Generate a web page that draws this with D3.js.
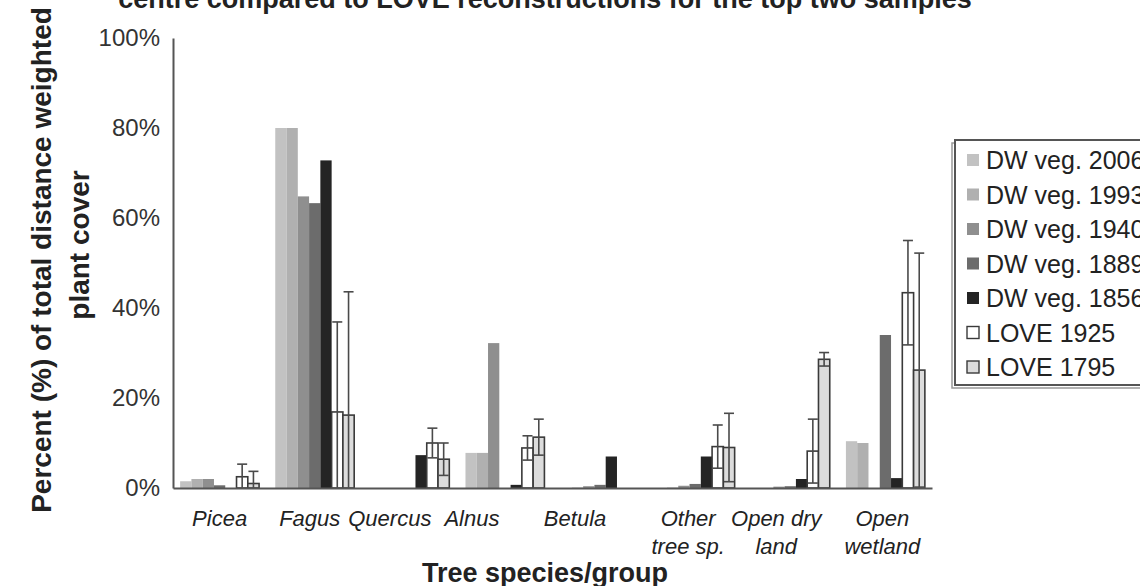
<!DOCTYPE html>
<html>
<head>
<meta charset="utf-8">
<script src="https://cdn.jsdelivr.net/npm/d3@7"></script>
<style>
  html, body { margin: 0; padding: 0; background: #fff; }
  svg { display: block; font-family: "Liberation Sans", Arial, Helvetica, sans-serif; }
</style>
</head>
<body>
<svg id="chart" width="1140" height="586"></svg>
<script>
// Tree species / land-cover groups (label lines as printed under the axis)
const categories = ["Picea", "Fagus", "Quercus", "Alnus", "Betula", "Other tree sp.", "Open dry land", "Open wetland"];
const categoryLines = [["Picea"], ["Fagus"], ["Quercus"], ["Alnus"], ["Betula"], ["Other", "tree sp."], ["Open dry", "land"], ["Open", "wetland"]];

const seriesNames = ["DW veg. 2006", "DW veg. 1993", "DW veg. 1940", "DW veg. 1889", "DW veg. 1856", "LOVE 1925", "LOVE 1795"];

// Distance-weighted plant cover (%) from vegetation maps
const dw2006 = [1.5, 80.0, 0.0, 7.8, 0.0, 0.0, 0.0, 10.4];
const dw1993 = [2.0, 80.0, 0.0, 7.8, 0.1, 0.1, 0.0, 10.0];
const dw1940 = [2.0, 64.8, 0.0, 32.2, 0.4, 0.5, 0.3, 0.0];
const dw1889 = [0.6, 63.3, 0.0, 0.0, 0.7, 0.9, 0.4, 34.0];
const dw1856 = [0.0, 72.8, 7.3, 0.7, 7.0, 7.0, 2.0, 2.2];

// LOVE reconstructions (%) with their standard errors
const love1925 = [2.5, 16.9, 10.0, 8.9, 0.0, 9.2, 8.2, 43.4];
const love1795 = [1.0, 16.2, 6.4, 11.3, 0.0, 9.0, 28.6, 26.2];
const love1925Err = [2.8, 20.0, 3.3, 2.7, 0.0, 4.8, 7.1, 11.6];
const love1795Err = [2.7, 27.4, 3.6, 4.0, 0.0, 7.6, 1.5, 26.0];

const yTicks = [0, 20, 40, 60, 80, 100];

const seriesValues = [dw2006, dw1993, dw1940, dw1889, dw1856, love1925, love1795];
const seriesErrors = [null, null, null, null, null, love1925Err, love1795Err];
const fills = ["#c2c2c2", "#b0b0b0", "#8f8f8f", "#6c6c6c", "#242424", "#ffffff", "#dcdcdc"];
const strokes = [null, null, null, null, null, "#3a3a3a", "#3a3a3a"];

const svg = d3.select("#chart");
const font = '"Liberation Sans", Arial, Helvetica, sans-serif';
const textColor = "#222";

const x0 = d3.scaleBand().domain(categories).range([173, 932]).paddingInner(0.17).paddingOuter(0.075);
const x1 = d3.scaleBand().domain(seriesNames).range([0, x0.bandwidth()]);
const y = d3.scaleLinear().domain([0, 100]).range([488, 38]);

// Title line (runs off the top edge of the figure)
svg.append("text")
  .attr("x", 545).attr("y", 8)
  .attr("text-anchor", "middle")
  .attr("font-weight", "bold").attr("font-size", 27)
  .attr("fill", textColor)
  .text("centre compared to LOVE reconstructions for the top two samples");

// Bars
const rows = categories.map((c, i) => seriesNames.map((s, j) => ({
  cat: c, series: s, j, value: seriesValues[j][i],
  err: seriesErrors[j] ? seriesErrors[j][i] : null
})));

const groups = svg.append("g").selectAll("g").data(rows).join("g")
  .attr("transform", d => `translate(${x0(d[0].cat)},0)`);

groups.selectAll("rect").data(d => d).join("rect")
  .attr("x", d => x1(d.series))
  .attr("width", x1.bandwidth())
  .attr("y", d => y(d.value))
  .attr("height", d => y(0) - y(d.value))
  .attr("fill", d => fills[d.j])
  .attr("stroke", d => strokes[d.j])
  .attr("stroke-width", d => strokes[d.j] ? 1.6 : 0);

// Error bars on the LOVE estimates
const errData = d => d.filter(e => e.err !== null && e.err > 0);
const errG = groups.selectAll("g.err").data(errData).join("g").attr("class", "err")
  .attr("stroke", "#4a4a4a").attr("stroke-width", 1.6).attr("fill", "none");
const cx = d => x1(d.series) + x1.bandwidth() / 2;
const capHalf = 5;
errG.append("line")
  .attr("x1", cx).attr("x2", cx)
  .attr("y1", d => y(d.value + d.err))
  .attr("y2", d => y(Math.max(0, d.value - d.err)));
errG.append("line")
  .attr("x1", d => cx(d) - capHalf).attr("x2", d => cx(d) + capHalf)
  .attr("y1", d => y(d.value + d.err)).attr("y2", d => y(d.value + d.err));
errG.filter(d => d.value - d.err > 0).append("line")
  .attr("x1", d => cx(d) - capHalf).attr("x2", d => cx(d) + capHalf)
  .attr("y1", d => y(d.value - d.err)).attr("y2", d => y(d.value - d.err));

// Y axis
const yAxis = svg.append("g").attr("transform", "translate(173,0)")
  .call(d3.axisLeft(y).tickValues(yTicks).tickFormat(d => d + "%").tickSize(0).tickPadding(13));
yAxis.select(".domain").attr("stroke", "#555").attr("stroke-width", 2);
yAxis.selectAll("text").attr("font-size", 24).attr("font-family", font).attr("fill", "#333");

// X axis line and category labels (labels sit slightly left of their groups)
const labelNudge = [0, -5, -20, -33, -25, -7, -14, -3];
const xAxis = svg.append("g").attr("transform", "translate(0,488)")
  .call(d3.axisBottom(x0).tickSize(0).tickFormat(""));
xAxis.select(".domain").attr("stroke", "#555").attr("stroke-width", 2);
xAxis.selectAll(".tick").each(function(d, i) {
  const t = d3.select(this).append("text")
    .attr("y", 38).attr("fill", textColor)
    .attr("font-size", 22).attr("font-style", "italic").attr("font-family", font)
    .attr("text-anchor", "middle");
  categoryLines[i].forEach((line, k) => {
    t.append("tspan").attr("x", labelNudge[i]).attr("dy", k === 0 ? 0 : 28).text(line);
  });
});

// Axis titles
svg.append("text")
  .attr("transform", "translate(51,260) rotate(-90)")
  .attr("text-anchor", "middle")
  .attr("font-weight", "bold").attr("font-size", 28).attr("fill", textColor)
  .text("Percent (%) of total distance weighted");
svg.append("text")
  .attr("transform", "translate(89,245) rotate(-90)")
  .attr("text-anchor", "middle")
  .attr("font-weight", "bold").attr("font-size", 28).attr("fill", textColor)
  .text("plant cover");
svg.append("text")
  .attr("x", 545).attr("y", 582)
  .attr("text-anchor", "middle")
  .attr("font-weight", "bold").attr("font-size", 27).attr("fill", textColor)
  .text("Tree species/group");

// Legend (box continues past the right edge)
const legend = svg.append("g");
legend.append("rect")
  .attr("x", 952).attr("y", 143).attr("width", 220).attr("height", 245)
  .attr("fill", "#fff").attr("stroke", "#999").attr("stroke-width", 1.5);
legend.append("rect")
  .attr("x", 955).attr("y", 140).attr("width", 220).attr("height", 245)
  .attr("fill", "#fff").attr("stroke", "#555").attr("stroke-width", 2);
const ly = d3.scalePoint().domain(seriesNames).range([160, 367]);
const items = legend.selectAll("g.item").data(seriesNames).join("g").attr("class", "item")
  .attr("transform", d => `translate(0,${ly(d)})`);
items.append("rect")
  .attr("x", 967).attr("y", -6).attr("width", 12).attr("height", 12)
  .attr("fill", (d, i) => fills[i])
  .attr("stroke", (d, i) => strokes[i])
  .attr("stroke-width", (d, i) => strokes[i] ? 1.4 : 0);
items.append("text")
  .attr("x", 986).attr("y", 0).attr("dy", "0.36em")
  .attr("font-size", 25).attr("fill", textColor)
  .text(d => d);
</script>
</body>
</html>
